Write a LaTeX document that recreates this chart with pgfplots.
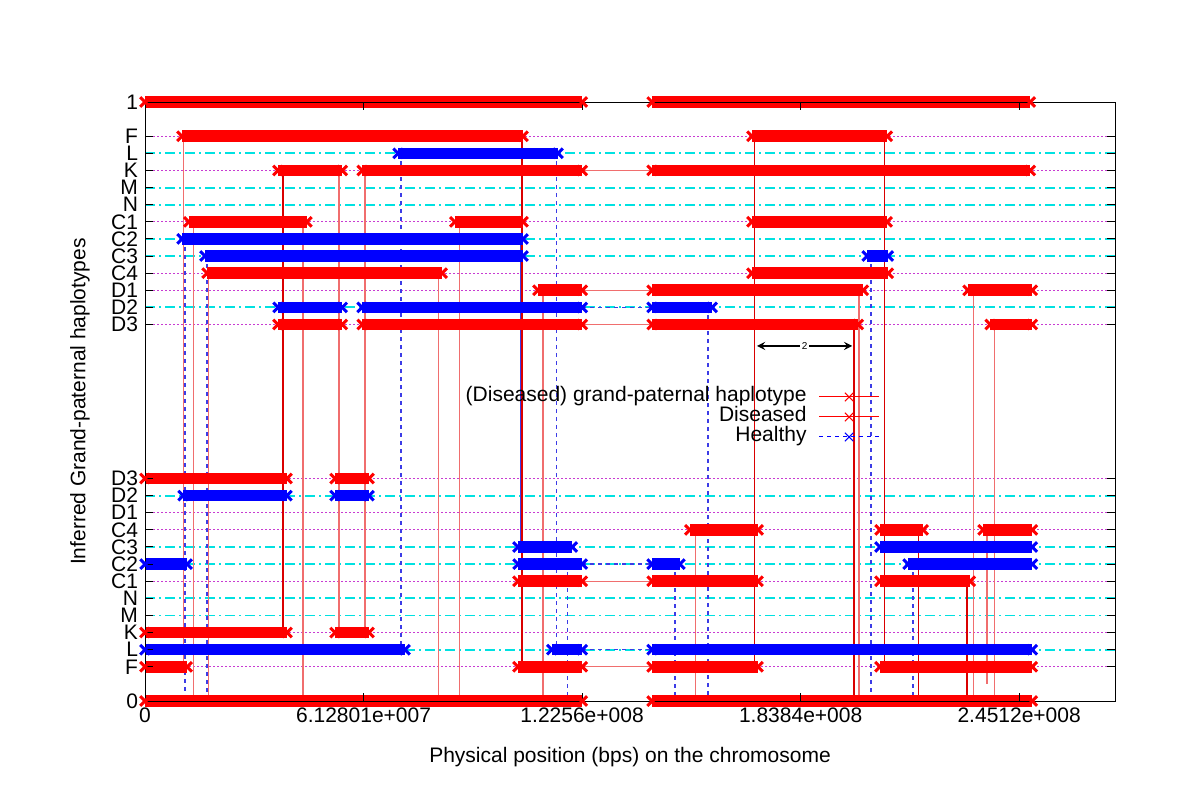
\documentclass[border=0pt]{standalone}
\usepackage{fontspec}
\setmainfont{Liberation Sans}
\usepackage{pgfplots}
\pgfplotsset{compat=1.18}

\definecolor{gridm}{RGB}{200,60,210}
\definecolor{gridc}{RGB}{0,225,225}
\definecolor{pinkred}{RGB}{240,110,110}
\definecolor{hblue}{RGB}{60,60,230}

\pgfplotsset{
  dis/.style={red, line width=5.8pt, mark=x, mark size=3.4pt, mark options={line width=1.5pt, solid}},
  hea/.style={blue, line width=5.8pt, mark=x, mark size=3.4pt, mark options={line width=1.5pt, solid}},
  vdis/.style={pinkred, line width=0.6pt},
  vdark/.style={red!85!black, line width=0.6pt},
  vhea/.style={hblue, line width=0.7pt, dash pattern=on 2pt off 2pt},
  rowm/.style={gridm, line width=0.6pt, dash pattern=on 0.8pt off 1.2pt},
  rowc/.style={gridc, line width=0.95pt, dash pattern=on 5pt off 2pt on 1pt off 2pt},
}

\begin{document}
\begin{tikzpicture}
\begin{axis}[
  scale only axis,
  width=485pt, height=299.5pt,
  xmin=0, xmax=272, ymin=0, ymax=35,
  clip=false, axis on top,
  unbounded coords=jump,
  font=\fontsize{10.5}{12}\selectfont,
  tick align=inside, major tick length=4pt,
  tick style={black, line width=0.5pt},
  xtick={0,61.2801,122.56,183.84,245.12},
  xticklabels={0,6.12801e+007,1.2256e+008,1.8384e+008,2.4512e+008},
  ytick={0,2,3,4,5,6,7,8,9,10,11,12,13,22,23,24,25,26,27,28,29,30,31,32,33,35},
  yticklabels={0,F,L,K,M,N,C1,C2,C3,C4,D1,D2,D3,D3,D2,D1,C4,C3,C2,C1,N,M,K,L,F,1},
  xlabel={Physical position (bps) on the chromosome},
  ylabel={Inferred Grand-paternal haplotypes},
  xlabel style={at={(axis description cs:0.5,-0.0935)}, anchor=center},
  ylabel style={at={(axis description cs:-0.067,0.5)}, anchor=center},
  legend plot pos=right,
  legend cell align=right,
  legend image code/.code={\draw[mark repeat=2,mark phase=2,#1] plot coordinates {(0pt,0pt) (15pt,0pt) (30pt,0pt)};},
  legend style={at={(rel axis cs:0.7577,0.525)}, anchor=north east, draw=none, fill=none,
    inner sep=0pt, column sep=6pt,
    nodes={inner sep=0pt, text height=7.5pt, text depth=2.5pt}},
]
\addlegendimage{red, line width=0.5pt, mark=x, mark size=3pt}
\addlegendentry{(Diseased) grand-paternal haplotype}
\addlegendimage{red, line width=0.5pt, mark=x, mark size=3pt}
\addlegendentry{Diseased}
\addlegendimage{blue, line width=0.5pt, dash pattern=on 2pt off 2pt, mark=x, mark size=3pt, mark options={solid}}
\addlegendentry{Healthy}

% row lines
\addplot[rowm] coordinates {(0,33)(272,33) (0,nan) (0,31)(272,31) (0,nan) (0,28)(272,28) (0,nan)
  (0,25)(272,25) (0,nan) (0,24)(272,24) (0,nan) (0,22)(272,22) (0,nan)
  (0,13)(272,13) (0,nan) (0,11)(272,11) (0,nan) (0,10)(272,10) (0,nan)
  (0,7)(272,7) (0,nan) (0,4)(272,4) (0,nan) (0,2)(272,2)};
\addplot[rowc] coordinates {(0,32)(272,32) (0,nan) (0,30)(272,30) (0,nan) (0,29)(272,29) (0,nan)
  (0,27)(272,27) (0,nan) (0,26)(272,26) (0,nan) (0,23)(272,23) (0,nan)
  (0,12)(272,12) (0,nan) (0,9)(272,9) (0,nan) (0,8)(272,8) (0,nan)
  (0,6)(272,6) (0,nan) (0,5)(272,5) (0,nan) (0,3)(272,3)};

% vertical switches
\addplot[vdis] coordinates {(10.7,33)(10.7,2) (0,nan) (13.5,28)(13.5,0) (0,nan) (17.9,25)(17.9,0) (0,nan)
  (44.3,28)(44.3,0) (0,nan) (54.4,31)(54.4,4) (0,nan) (61.7,31)(61.7,4) (0,nan)
  (82.2,25)(82.2,0) (0,nan) (88.1,28)(88.1,0) (0,nan) (111.6,24)(111.6,0) (0,nan)
  (154.3,10)(154.3,0) (0,nan) (200.2,24)(200.2,0) (0,nan) (232.2,24)(232.2,0) (0,nan)
  (236.1,10)(236.1,1) (0,nan) (238.1,22)(238.1,0)};
\addplot[vdark] coordinates {(38.7,31)(38.7,4) (0,nan) (105.7,33)(105.7,2) (0,nan) (170.8,33)(170.8,2) (0,nan)
  (198.8,22)(198.8,0) (0,nan) (207.3,33)(207.3,2) (0,nan) (216.8,10)(216.8,0) (0,nan)
  (230.5,7)(230.5,0)};
\addplot[vhea] coordinates {(11.2,27)(11.2,0) (0,nan) (17.4,26)(17.4,0) (0,nan) (71.8,32)(71.8,3) (0,nan)
  (115.3,32)(115.3,3) (0,nan) (118.4,8)(118.4,0) (0,nan) (148.6,8)(148.6,0) (0,nan)
  (157.9,23)(157.9,0) (0,nan) (203.6,26)(203.6,0) (0,nan) (215.4,8)(215.4,0)};
\addplot[hblue, line width=0.5pt] coordinates {(105.3,27)(105.3,9)};

% links across the gap
\addplot[pinkred, line width=0.6pt] coordinates {(122.6,31)(142.2,31) (0,nan) (122.6,24)(142.2,24) (0,nan)
  (122.6,22)(142.2,22) (0,nan) (122.6,7)(142.2,7) (0,nan) (122.6,2)(142.2,2)};
\addplot[vhea] coordinates {(122.6,23)(142.2,23) (0,nan) (122.6,8)(142.2,8) (0,nan) (122.6,3)(142.2,3)};

% top half
\addplot[dis] coordinates {(0,35)(122.6,35) (0,nan) (142.2,35)(248.2,35)};
\addplot[dis] coordinates {(10.4,33)(106.0,33) (0,nan) (170.2,33)(208.1,33)};
\addplot[hea] coordinates {(71.0,32)(115.8,32)};
\addplot[dis] coordinates {(37.3,31)(55.3,31) (0,nan) (60.9,31)(122.6,31) (0,nan) (142.2,31)(248.2,31)};
\addplot[dis] coordinates {(12.3,28)(45.4,28) (0,nan) (86.9,28)(106.0,28) (0,nan) (170.2,28)(208.1,28)};
\addplot[hea] coordinates {(10.4,27)(106.0,27)};
\addplot[hea] coordinates {(16.8,26)(106.0,26) (0,nan) (202.5,26)(208.4,26)};
\addplot[dis] coordinates {(17.4,25)(83.3,25) (0,nan) (170.2,25)(208.4,25)};
\addplot[dis] coordinates {(110.2,24)(122.6,24) (0,nan) (142.2,24)(201.4,24) (0,nan) (230.8,24)(248.8,24)};
\addplot[hea] coordinates {(37.3,23)(55.3,23) (0,nan) (60.9,23)(122.6,23) (0,nan) (142.2,23)(159.0,23)};
\addplot[dis] coordinates {(37.3,22)(55.3,22) (0,nan) (60.9,22)(122.6,22) (0,nan) (142.2,22)(200.0,22) (0,nan) (237.0,22)(248.8,22)};

% bottom half
\addplot[dis] coordinates {(0,13)(39.8,13) (0,nan) (53.3,13)(62.8,13)};
\addplot[hea] coordinates {(10.7,12)(39.8,12) (0,nan) (53.3,12)(62.8,12)};
\addplot[dis] coordinates {(152.8,10)(171.9,10) (0,nan) (206.1,10)(218.2,10) (0,nan) (235.0,10)(248.8,10)};
\addplot[hea] coordinates {(104.6,9)(119.8,9) (0,nan) (206.1,9)(248.8,9)};
\addplot[hea] coordinates {(0,8)(11.8,8) (0,nan) (104.6,8)(122.6,8) (0,nan) (142.2,8)(150.0,8) (0,nan) (214.0,8)(248.8,8)};
\addplot[dis] coordinates {(104.6,7)(122.6,7) (0,nan) (142.2,7)(171.9,7) (0,nan) (206.1,7)(231.4,7)};
\addplot[dis] coordinates {(0,4)(39.8,4) (0,nan) (53.3,4)(62.8,4)};
\addplot[hea] coordinates {(0,3)(72.9,3) (0,nan) (114.1,3)(122.6,3) (0,nan) (142.2,3)(248.8,3)};
\addplot[dis] coordinates {(0,2)(11.8,2) (0,nan) (104.6,2)(122.6,2) (0,nan) (142.2,2)(171.9,2) (0,nan) (206.1,2)(248.8,2)};
\addplot[dis] coordinates {(0,0)(122.6,0) (0,nan) (142.2,0)(248.8,0)};

\draw[<->, >=stealth, black, line width=0.8pt] (axis cs:171.6,20.75) -- node[fill=white, inner sep=1pt, font=\fontsize{5}{6}\selectfont]{2} (axis cs:198.3,20.75);

\path (rel axis cs:-0.1495,-0.1536) rectangle (rel axis cs:1.0876,1.1703);
\end{axis}
\end{tikzpicture}
\end{document}
